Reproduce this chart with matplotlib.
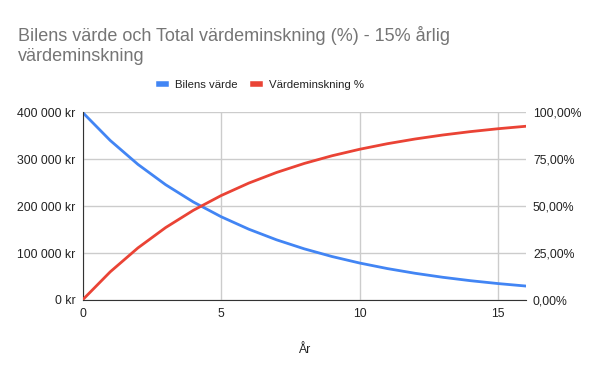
import matplotlib.pyplot as plt
from matplotlib.ticker import FuncFormatter

ar = list(range(17))
bilens_varde = [400000, 340000, 289000, 245650, 208803, 177482, 150860, 128231,
                108996, 92647, 78750, 66937, 56897, 48362, 41108, 34942, 29700]
vardeminskning = [0.0, 15.0, 27.75, 38.59, 47.80, 55.63, 62.29, 67.94,
                  72.75, 76.84, 80.31, 83.27, 85.78, 87.91, 89.72, 91.26, 92.57]

blue = "#4285f4"
red = "#ea4335"
txt = "#222222"

plt.rcParams["font.family"] = ["Liberation Sans", "DejaVu Sans"]

fig = plt.figure(figsize=(6, 3.71), dpi=100)
ax = fig.add_axes([0.1375, 0.1914, 0.7392, 0.5059])
ax2 = ax.twinx()

l1, = ax.plot(ar, bilens_varde, color=blue, lw=2)
l2, = ax2.plot(ar, vardeminskning, color=red, lw=2)

ax.set_xlim(0, 16)
ax.set_ylim(0, 400000)
ax2.set_ylim(0, 100)
ax.set_xticks([0, 5, 10, 15])
ax.set_yticks([0, 100000, 200000, 300000, 400000])
ax2.set_yticks([0, 25, 50, 75, 100])

ax.yaxis.set_major_formatter(FuncFormatter(lambda v, p: f"{int(v):,} kr".replace(",", " ")))
ax2.yaxis.set_major_formatter(FuncFormatter(lambda v, p: f"{v:.2f}%".replace(".", ",")))

ax.grid(True, color="#cccccc", lw=1)
ax.set_axisbelow(True)
for a in (ax, ax2):
    for s in ["top", "right", "left"]:
        a.spines[s].set_visible(False)
    a.tick_params(length=0, labelsize=8.8, colors=txt, pad=5)
ax2.spines["bottom"].set_visible(False)
ax.spines["left"].set_visible(True)
ax.spines["left"].set_color("#333333")
ax.spines["bottom"].set_color("#333333")
ax.tick_params(axis="x", pad=6)

ax.set_xlabel("År", fontsize=8.8, color=txt, labelpad=17)

fig.text(0.03, 0.93, "Bilens värde och Total värdeminskning (%) - 15% årlig\nvärdeminskning",
         fontsize=13, color="#757575", va="top", linespacing=1.25)

fig.legend([l1, l2], ["Bilens värde", "Värdeminskning %"], loc="center",
           bbox_to_anchor=(0.436, 0.77), ncol=2, frameon=False, fontsize=8.2,
           handlelength=0.6, handletextpad=0.8, columnspacing=1.4,
           labelcolor=txt)
for h in fig.legends[0].legend_handles:
    h.set_linewidth(4)

fig.savefig("out.png", dpi=100)
